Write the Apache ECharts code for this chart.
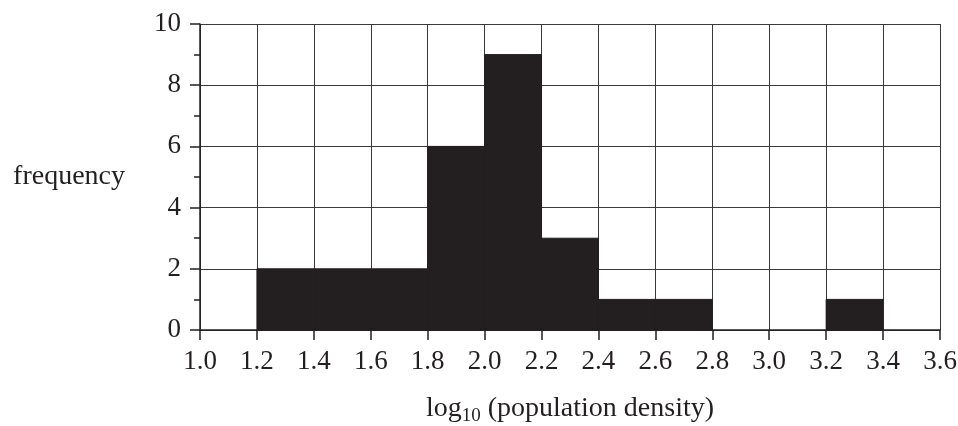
<!DOCTYPE html>
<html>
<head>
<meta charset="utf-8">
<script src="https://cdn.jsdelivr.net/npm/echarts@6/dist/echarts.min.js"></script>
<style>
  html, body { margin: 0; padding: 0; background: #fff; }
  #po { width: 958px; height: 426px; }
</style>
</head>
<body>
<div id="po"></div>
<script>
// histogram bins (log10 population density) and frequencies
var binLow = [1.2, 1.4, 1.6, 1.8, 2.0, 2.2, 2.4, 2.6, 3.2];
var binHigh = [1.4, 1.6, 1.8, 2.0, 2.2, 2.4, 2.6, 2.8, 3.4];
var freq = [2, 2, 2, 6, 9, 3, 1, 1, 1];

var ink = '#231f20';
var serif = '"Liberation Serif", "DejaVu Serif", serif';

var bins = binLow.map(function (lo, i) {
    return [lo, binHigh[i], freq[i]];
});

var myChart = echarts.init(document.getElementById('po'));
var option = {
    animation: false,
    grid: {left: 200, right: 18, top: 24, bottom: 96, outerBoundsMode: 'none'},
    xAxis: {
        type: 'value',
        min: 1.0,
        max: 3.6,
        interval: 0.2,
        name: '{a|log}{b|10}{a| (population density)}',
        nameLocation: 'middle',
        nameGap: 62,
        nameTextStyle: {
            rich: {
                a: {fontFamily: serif, fontSize: 28, color: ink, lineHeight: 34},
                b: {fontFamily: serif, fontSize: 19, color: ink, lineHeight: 12, verticalAlign: 'bottom'}
            }
        },
        axisLine: {show: true, onZero: false, lineStyle: {color: ink, width: 1.5}},
        axisTick: {show: true, length: 10, lineStyle: {color: ink, width: 1.5}},
        axisLabel: {
            margin: 18,
            fontFamily: serif,
            fontSize: 27,
            color: ink,
            formatter: function (v) { return v.toFixed(1); }
        },
        splitLine: {show: true, lineStyle: {color: '#3a3a3a', width: 1}}
    },
    yAxis: {
        type: 'value',
        min: 0,
        max: 10,
        interval: 2,
        name: 'frequency',
        nameLocation: 'middle',
        nameRotate: 0,
        nameGap: 75,
        nameTextStyle: {fontFamily: serif, fontSize: 28, color: ink},
        axisLine: {show: true, lineStyle: {color: ink, width: 1.5}},
        axisTick: {show: true, length: 10, lineStyle: {color: ink, width: 1.5}},
        minorTick: {show: true, splitNumber: 2, length: 6, lineStyle: {color: ink, width: 1.5}},
        axisLabel: {margin: 19, fontFamily: serif, fontSize: 27, color: ink},
        splitLine: {show: true, lineStyle: {color: '#3a3a3a', width: 1}}
    },
    series: [{
        type: 'custom',
        data: bins,
        encode: {x: [0, 1], y: 2},
        renderItem: function (params, api) {
            var p0 = api.coord([api.value(0), 0]);
            var p1 = api.coord([api.value(1), api.value(2)]);
            return {
                type: 'rect',
                shape: {x: p0[0], y: p1[1], width: p1[0] - p0[0], height: p0[1] - p1[1]},
                style: {fill: ink, stroke: ink, lineWidth: 1}
            };
        }
    }]
};
myChart.setOption(option);
</script>
</body>
</html>
